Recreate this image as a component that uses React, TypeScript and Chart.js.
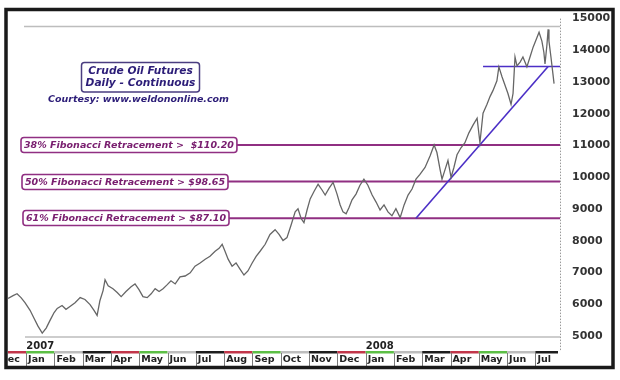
import { useEffect, useRef } from 'react';
import { Chart, registerables } from 'chart.js';

Chart.register(...registerables);

// ---- Data ----
// time in months since 1 Jan 2007 (0 = Jan 2007), price in cents ($ x 100)
const T = [
  -0.64, -0.46, -0.32, -0.18, -0.04, 0.14, 0.28, 0.42, 0.57, 0.71, 0.85, 0.99, 1.10, 1.27, 1.41, 1.55, 1.73, 1.91, 2.08, 2.26,
  2.40, 2.51, 2.61, 2.72, 2.79, 2.90, 3.07, 3.22, 3.36, 3.53, 3.71, 3.85, 3.99, 4.13, 4.28, 4.42, 4.56, 4.70, 4.84, 4.98,
  5.12, 5.27, 5.44, 5.62, 5.80, 5.97, 6.15, 6.33, 6.50, 6.68, 6.82, 6.93, 7.03, 7.14, 7.28, 7.42, 7.56, 7.70, 7.84, 7.99,
  8.13, 8.27, 8.45, 8.62, 8.80, 8.94, 9.08, 9.22, 9.36, 9.51, 9.61, 9.72, 9.82, 9.93, 10.04, 10.18, 10.32, 10.46, 10.57, 10.71,
  10.85, 10.99, 11.10, 11.20, 11.31, 11.41, 11.52, 11.66, 11.80, 11.94, 12.08, 12.23, 12.37, 12.51, 12.65, 12.79, 12.93, 13.07, 13.22, 13.36,
  13.50, 13.64, 13.78, 13.92, 14.10, 14.28, 14.42, 14.52, 14.63, 14.70, 14.81, 14.91, 15.02, 15.12, 15.23, 15.37, 15.51, 15.65, 15.80, 15.94,
  16.04, 16.15, 16.29, 16.40, 16.50, 16.64, 16.71, 16.82, 16.93, 17.03, 17.14, 17.21, 17.28, 17.35, 17.46, 17.56, 17.70, 17.81, 17.92, 18.06,
  18.13, 18.23, 18.30, 18.34, 18.41, 18.45, 18.48, 18.55, 18.62, 18.66,
];
const PRICE = [
  6180, 6270, 6330, 6210, 6050, 5810, 5560, 5310, 5090, 5250, 5500, 5740, 5870, 5960, 5840, 5930, 6050, 6210, 6150, 5990,
  5810, 5650, 6120, 6430, 6770, 6580, 6490, 6370, 6240, 6400, 6550, 6640, 6460, 6240, 6210, 6330, 6490, 6400, 6490, 6610,
  6740, 6640, 6860, 6890, 6990, 7200, 7300, 7420, 7510, 7670, 7760, 7890, 7670, 7420, 7200, 7300, 7110, 6920, 7050, 7300,
  7510, 7670, 7890, 8200, 8350, 8200, 8010, 8100, 8480, 8910, 9010, 8700, 8570, 8970, 9320, 9560, 9780, 9600, 9440, 9660,
  9840, 9470, 9130, 8910, 8850, 9040, 9290, 9470, 9750, 9940, 9750, 9440, 9220, 8970, 9130, 8910, 8790, 9010, 8730, 9130,
  9440, 9630, 9940, 10090, 10310, 10680, 11020, 10780, 10250, 9940, 10250, 10530, 10000, 10310, 10710, 10930, 11090, 11400, 11650, 11860,
  11090, 12020, 12300, 12550, 12730, 13040, 13480, 13170, 12890, 12640, 12300, 12640, 13790, 13510, 13630, 13790, 13480, 13790, 14100, 14410,
  14570, 14290, 13940, 13570, 14190, 14660, 14290, 13790, 13260, 12950,
];

const X_MIN = -0.64;
const X_MAX = 18.87;
const Y_MIN = 5000;
const Y_MAX = 15000;
const Y_STEP = 1000;

const MONTHS = ['Dec', 'Jan', 'Feb', 'Mar', 'Apr', 'May', 'Jun', 'Jul', 'Aug', 'Sep', 'Oct', 'Nov', 'Dec', 'Jan', 'Feb', 'Mar', 'Apr', 'May', 'Jun', 'Jul'];
const FIRST_MONTH = -1; // Dec 2006
const YEARS = ['2007', '2008'];
const YEAR_MONTH = [0, 12];

const FIB_LEVELS = [11020, 9865, 8710];
const FIB_FROM = 0;
const FIB_LABELS = [
  '38% Fibonacci Retracement >  $110.20',
  '50% Fibonacci Retracement > $98.65',
  '61% Fibonacci Retracement > $87.10',
];

const TOP_LINE = 14750;
const RESIST_LEVEL = 13490;
const RESIST_FROM = 16.15;
const TREND_T = [13.78, 18.45];
const TREND_V = [8710, 13490];

const TITLE = ['Crude Oil Futures', 'Daily - Continuous'];
const COURTESY = 'Courtesy: www.weldononline.com';

// ---- Styles ----
const FONT = '"DejaVu Sans", Verdana, sans-serif';
const FIB_COLOR = '#902f82';
const FIB_TEXT = '#7a2070';
const BLUE = '#4b2fc6';
const NAVY = '#2c1d78';
const STRIP = ['#5cbf45', '#bdbdbd', '#1e1e1e', '#c2364a']; // by month % 4 (Jan=green)

function fitFont(ctx: CanvasRenderingContext2D, text: string, style: string, target: number) {
  ctx.font = `${style} 10px ${FONT}`;
  const w = ctx.measureText(text).width;
  const size = (10 * target) / w;
  ctx.font = `${style} ${size.toFixed(2)}px ${FONT}`;
  return size;
}

function roundRect(ctx: CanvasRenderingContext2D, x: number, y: number, w: number, h: number, r: number) {
  ctx.beginPath();
  ctx.moveTo(x + r, y);
  ctx.lineTo(x + w - r, y);
  ctx.quadraticCurveTo(x + w, y, x + w, y + r);
  ctx.lineTo(x + w, y + h - r);
  ctx.quadraticCurveTo(x + w, y + h, x + w - r, y + h);
  ctx.lineTo(x + r, y + h);
  ctx.quadraticCurveTo(x, y + h, x, y + h - r);
  ctx.lineTo(x, y + r);
  ctx.quadraticCurveTo(x, y, x + r, y);
  ctx.closePath();
}

const decor = {
  id: 'decor',
  beforeDraw(chart: any) {
    const ctx = chart.ctx;
    ctx.save();
    ctx.fillStyle = '#ffffff';
    ctx.fillRect(0, 0, chart.width, chart.height);
    ctx.restore();
  },
  beforeDatasetsDraw(chart: any) {
    const ctx = chart.ctx;
    const { y } = chart.scales;
    const area = chart.chartArea;
    ctx.save();
    ctx.strokeStyle = '#bdbdbd';
    ctx.lineWidth = 1.5;
    const yt = y.getPixelForValue(TOP_LINE);
    const yb = y.getPixelForValue(Y_MIN) + 1;
    ctx.beginPath();
    ctx.moveTo(24, yt);
    ctx.lineTo(area.right, yt);
    ctx.moveTo(25, yb);
    ctx.lineTo(area.right, yb);
    ctx.stroke();
    ctx.strokeStyle = '#9a9a9a';
    ctx.lineWidth = 1;
    ctx.setLineDash([1.5, 1.5]);
    ctx.beginPath();
    ctx.moveTo(area.right + 0.5, area.top);
    ctx.lineTo(area.right + 0.5, yb + 14);
    ctx.stroke();
    ctx.restore();
  },
  afterDatasetsDraw(chart: any) {
    const ctx = chart.ctx;
    const { x, y } = chart.scales;
    const area = chart.chartArea;
    ctx.save();

    fitFont(ctx, FIB_LABELS[1], 'italic bold', 200);
    ctx.textBaseline = 'middle';
    ctx.textAlign = 'left';
    FIB_LEVELS.forEach((lvl, i) => {
      const py = Math.round(y.getPixelForValue(lvl));
      const tw = ctx.measureText(FIB_LABELS[i]).width;
      const bx = 21 + (i === 0 ? 0 : i);
      roundRect(ctx, bx, py - 7.5, tw + 6, 15, 3);
      ctx.fillStyle = '#ffffff';
      ctx.fill();
      ctx.strokeStyle = FIB_COLOR;
      ctx.lineWidth = 1.6;
      ctx.stroke();
      ctx.fillStyle = FIB_TEXT;
      ctx.fillText(FIB_LABELS[i], bx + 3, py + 0.5);
    });

    roundRect(ctx, 81.5, 62.5, 118, 29.5, 3);
    ctx.fillStyle = '#ffffff';
    ctx.fill();
    ctx.strokeStyle = '#4a3d80';
    ctx.lineWidth = 1.5;
    ctx.stroke();
    const ts = fitFont(ctx, TITLE[1], 'italic bold', 110);
    ctx.font = `italic bold ${ts.toFixed(2)}px ${FONT}`;
    ctx.fillStyle = NAVY;
    ctx.textAlign = 'center';
    ctx.fillText(TITLE[0], 140.5, 71.5);
    ctx.fillText(TITLE[1], 140.5, 83.5);
    fitFont(ctx, COURTESY, 'italic bold', 181);
    ctx.fillText(COURTESY, 138.5, 99.5);

    ctx.save();
    ctx.beginPath();
    ctx.rect(8, area.bottom, area.right - 8 + 1, 40);
    ctx.clip();
    ctx.font = `bold 9.5px ${FONT}`;
    ctx.textAlign = 'left';
    ctx.textBaseline = 'middle';
    MONTHS.forEach((name, i) => {
      const m = FIRST_MONTH + i;
      const x0 = x.getPixelForValue(m);
      const x1 = Math.min(x.getPixelForValue(m + 1), area.right - 2);
      const mi = ((m % 12) + 12) % 12;
      ctx.fillStyle = STRIP[mi % 4];
      ctx.fillRect(x0, 351, x1 - x0, 2.5);
      ctx.strokeStyle = '#7a7a7a';
      ctx.lineWidth = 1;
      ctx.beginPath();
      ctx.moveTo(Math.round(x0) + 0.5, 353);
      ctx.lineTo(Math.round(x0) + 0.5, 366);
      ctx.stroke();
      ctx.fillStyle = '#222222';
      ctx.fillText(name, x0 + 2, 360);
    });
    ctx.font = `bold 10px ${FONT}`;
    ctx.textAlign = 'center';
    YEARS.forEach((yr, i) => {
      ctx.fillStyle = '#222222';
      ctx.fillText(yr, x.getPixelForValue(YEAR_MONTH[i] + 0.5), 346.5);
    });
    ctx.restore();
    ctx.restore();
  },
  afterDraw(chart: any) {
    const ctx = chart.ctx;
    ctx.save();
    ctx.strokeStyle = '#1a1a1a';
    ctx.lineWidth = 3.5;
    ctx.strokeRect(6, 9.5, 607, 358);
    ctx.restore();
  },
};

export default function App() {
  const ref = useRef<HTMLCanvasElement | null>(null);
  useEffect(() => {
    if (!ref.current) return;
    const line = (pts: { x: number; y: number }[], color: string, width: number) => ({
      data: pts,
      borderColor: color,
      borderWidth: width,
      pointRadius: 0,
      tension: 0,
      fill: false,
    });
    const chart = new Chart(ref.current, {
      type: 'line',
      data: {
        datasets: [
          line(T.map((t, i) => ({ x: t, y: PRICE[i] })), '#666666', 1.3),
          line([{ x: TREND_T[0], y: TREND_V[0] }, { x: TREND_T[1], y: TREND_V[1] }], BLUE, 1.6),
          line([{ x: RESIST_FROM, y: RESIST_LEVEL }, { x: X_MAX, y: RESIST_LEVEL }], BLUE, 1.6),
          ...FIB_LEVELS.map((lvl) => line([{ x: FIB_FROM, y: lvl }, { x: X_MAX, y: lvl }], FIB_COLOR, 2)),
        ],
      },
      options: {
        animation: false,
        responsive: false,
        maintainAspectRatio: false,
        layout: { padding: { left: 8, top: 14, bottom: 44, right: 0 } },
        plugins: { legend: { display: false }, tooltip: { enabled: false } },
        scales: {
          x: { type: 'linear', min: X_MIN, max: X_MAX, display: false },
          y: {
            position: 'right',
            min: Y_MIN,
            max: Y_MAX,
            afterFit: (s: any) => { s.width = 60; },
            ticks: {
              stepSize: Y_STEP,
              padding: 12,
              color: '#333333',
              font: { family: FONT, size: 11, weight: 'bold' },
              callback: (v: any) => String(v),
            },
            grid: { display: false, drawTicks: false },
            border: { display: false },
          },
        },
      },
      plugins: [decor],
    } as any);
    return () => chart.destroy();
  }, []);
  return (
    <div style={{ position: 'absolute', left: 0, top: 0, width: 620, height: 380, background: '#fff' }}>
      <canvas ref={ref} width={620} height={380} />
    </div>
  );
}
